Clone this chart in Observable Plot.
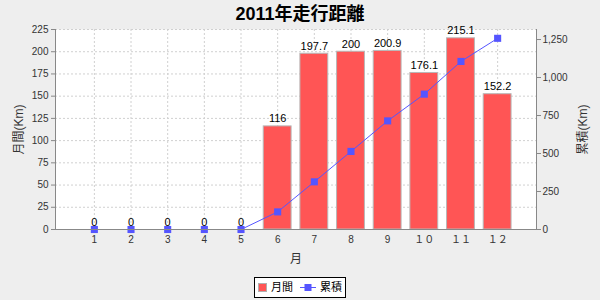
<!DOCTYPE html>
<html><head><meta charset="utf-8">
<script src="https://cdn.jsdelivr.net/npm/d3@7"></script>
<script src="https://cdn.jsdelivr.net/npm/@observablehq/plot@0.6"></script>
<style>
html,body{margin:0;padding:0;background:#eeeeee;}
#wrap{width:600px;height:300px;position:relative;overflow:hidden;font-family:"Liberation Sans","Noto Sans CJK JP",sans-serif;}
#title{height:22px;line-height:28px;text-align:center;font-weight:bold;font-size:18px;color:#000;}
#chart svg{display:block;}
#legend{position:absolute;left:254px;top:277px;height:21px;width:92px;border:1px solid #000;background:#fff;display:flex;align-items:center;justify-content:center;font-size:11px;line-height:11px;padding:0;box-sizing:border-box;white-space:nowrap;}
#legend span{display:inline-flex;align-items:center;white-space:nowrap;}
</style></head>
<body><div id="wrap"><div id="title">2011年走行距離</div><div id="chart"></div><div id="legend"></div></div>
<script>
const months = [1,2,3,4,5,6,7,8,9,10,11,12];
const monthLabels = ["1","2","3","4","5","6","7","8","9","１０","１１","１２"];
const monthly = [0,0,0,0,0,116,197.7,200,200.9,176.1,215.1,152.2];
const leftTicks = [0,25,50,75,100,125,150,175,200,225];
const rightTicks = [0,250,500,750,1000,1250];
const leftMax = 225, rightMax = 1316;
const seriesNames = ["月間","累積"];
const colors = ["#FF5555","#5555FF"];

const k = leftMax / rightMax;
const cum = d3.cumsum(monthly);
const data = months.map((m,i)=>({month:m, value:monthly[i], cum:cum[i]}));

const chart = Plot.plot({
  width:600, height:248,
  marginTop:7, marginBottom:41, marginLeft:55, marginRight:64,
  style:{background:"transparent", fontFamily:"'Liberation Sans','Noto Sans CJK JP',sans-serif", fontSize:"10px", color:"#333"},
  x:{type:"band", domain:months, paddingInner:0.24, paddingOuter:0.68, round:false},
  y:{domain:[0,leftMax]},
  marks:[
    Plot.frame({fill:"white", stroke:null}),
    Plot.gridY(leftTicks, {stroke:"#d0d0d0", strokeOpacity:1, strokeDasharray:"2,2"}),
    Plot.gridX(months, {stroke:"#d0d0d0", strokeOpacity:1, strokeDasharray:"2,2"}),
    Plot.barY(data, {x:"month", y:"value", fill:colors[0], stroke:"#b8b8b8", strokeWidth:1}),
    Plot.line(data, {x:"month", y:d=>d.cum*k, stroke:colors[1], strokeWidth:1}),
    Plot.dot(data, {x:"month", y:d=>d.cum*k, symbol:"square", r:4, fill:colors[1], stroke:null}),
    Plot.text(data, {x:"month", y:"value", text:d=>String(d.value), lineAnchor:"bottom", dy:-4, fill:"#000", fontSize:11}),
    Plot.frame({anchor:"left", stroke:"#888"}),
    Plot.frame({anchor:"right", stroke:"#888"}),
    Plot.frame({anchor:"bottom", stroke:"#888"}),
    Plot.axisY(leftTicks, {anchor:"left", tickSize:4, tickPadding:3, stroke:"#888", fill:"#333", label:"月間(Km)", labelAnchor:"center", labelArrow:"none", labelOffset:41, fontSize:10}),
    Plot.axisY(rightTicks.map(v=>v*k), {anchor:"right", tickSize:4, tickPadding:2, stroke:"#888", fill:"#333", tickFormat:d=>d3.format(",")(Math.round(d/k)), label:"累積(Km)", labelAnchor:"center", labelArrow:"none", labelOffset:50, fontSize:10}),
    Plot.axisX({tickSize:0, tickPadding:6, tickFormat:d=>monthLabels[d-1], fill:"#333", label:"月", labelAnchor:"center", labelArrow:"none", labelOffset:33, fontSize:10})
  ]
});
document.getElementById("chart").appendChild(chart);
chart.querySelectorAll("g[aria-label='y-axis label'] text, g[aria-label='x-axis label'] text").forEach(t=>t.setAttribute("font-size","12"));

const lg = document.getElementById("legend");
lg.innerHTML = `<span><svg width="9" height="9"><rect x="0.5" y="0.5" width="8" height="8" fill="${colors[0]}" stroke="#b0b0b0"/></svg><span style="margin-left:4px">${seriesNames[0]}</span></span>
<span style="margin-left:7px"><svg width="16" height="9"><line x1="0" y1="4.5" x2="16" y2="4.5" stroke="${colors[1]}"/><rect x="4.5" y="1" width="7" height="7" fill="${colors[1]}"/></svg><span style="margin-left:4px">${seriesNames[1]}</span></span>`;
</script></body></html>
